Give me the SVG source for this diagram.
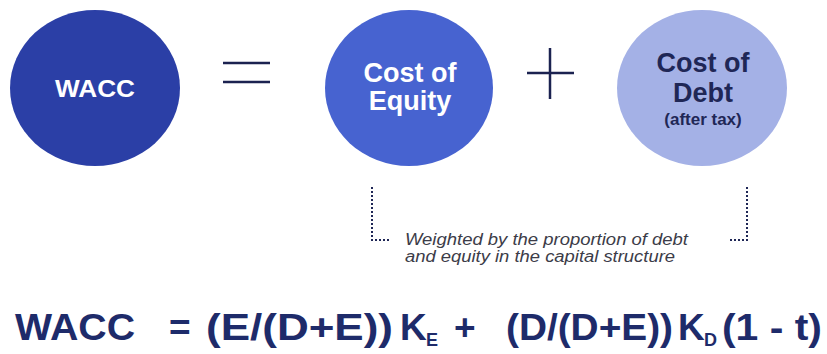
<svg xmlns="http://www.w3.org/2000/svg" width="827" height="354" viewBox="0 0 827 354">
<style>
.b{font-family:"Liberation Sans",Arial,sans-serif;font-weight:bold}
.w{fill:#ffffff}
.n{fill:#1f2756}
.f{fill:#1e2b6a;font-size:37px}
.s{fill:#1e2b6a;font-size:18px}
.it{font-family:"Liberation Sans",Arial,sans-serif;font-style:italic;font-size:16px;fill:#3c3c48}
.op{stroke:#1b2250;stroke-width:2.5;fill:none}
.dot{stroke:#1f2756;stroke-width:2;fill:none;stroke-dasharray:2 2}
</style>
<rect width="827" height="354" fill="#ffffff"/>
<g id="wacc">
<ellipse cx="95" cy="88" rx="85" ry="78" fill="#2b3fa6"/>
<text class="b w" x="95" y="97" font-size="24" text-anchor="middle" textLength="80" lengthAdjust="spacingAndGlyphs">WACC</text>
</g>
<g id="equals">
<line class="op" x1="223" y1="63" x2="270" y2="63"/>
<line class="op" x1="223" y1="82" x2="270" y2="82"/>
</g>
<g id="equity">
<ellipse cx="409" cy="88" rx="84" ry="78" fill="#4763d0"/>
<text class="b w" x="410" y="82" font-size="27" text-anchor="middle">Cost of</text>
<text class="b w" x="410" y="110" font-size="27" text-anchor="middle">Equity</text>
</g>
<g id="plus">
<line class="op" x1="527" y1="73" x2="574" y2="73"/>
<line class="op" x1="550" y1="48" x2="550" y2="99"/>
</g>
<g id="debt">
<ellipse cx="702" cy="88" rx="85" ry="78" fill="#a4b1e6"/>
<text class="b n" x="703" y="72" font-size="27" text-anchor="middle">Cost of</text>
<text class="b n" x="703" y="102" font-size="27" text-anchor="middle">Debt</text>
<text class="b n" x="703" y="125" font-size="17" text-anchor="middle">(after tax)</text>
</g>
<g id="connectors">
<path class="dot" d="M372 187 V240 H391"/>
<path class="dot" d="M747 187 V240 H729"/>
</g>
<g id="note">
<text class="it" x="405" y="245" textLength="283" lengthAdjust="spacingAndGlyphs">Weighted by the proportion of debt</text>
<text class="it" x="405" y="262" textLength="270" lengthAdjust="spacingAndGlyphs">and equity in the capital structure</text>
</g>
<g id="formula">
<text class="b f" x="15" y="340" textLength="120" lengthAdjust="spacingAndGlyphs">WACC</text>
<text class="b f" x="169" y="340">=</text>
<text class="b f" x="206" y="340" textLength="187" lengthAdjust="spacingAndGlyphs">(E/(D+E))</text>
<text class="b f" x="400" y="340">K</text>
<text class="b s" x="426" y="346">E</text>
<text class="b f" x="454" y="340">+</text>
<text class="b f" x="506" y="340" textLength="167" lengthAdjust="spacingAndGlyphs">(D/(D+E))</text>
<text class="b f" x="678" y="340">K</text>
<text class="b s" x="704" y="346">D</text>
<text class="b f" x="722" y="340" textLength="100" lengthAdjust="spacingAndGlyphs">(1 - t)</text>
</g>
</svg>
